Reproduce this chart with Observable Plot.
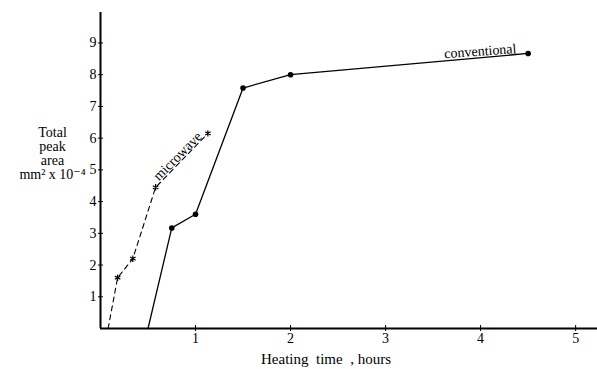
<!DOCTYPE html>
<html>
<head>
<meta charset="utf-8">
<script src="https://cdn.jsdelivr.net/npm/d3@7"></script>
<script src="https://cdn.jsdelivr.net/npm/@observablehq/plot@0.6"></script>
<style>
  body { margin: 0; background: #fff; }
  svg text { white-space: pre; }
</style>
</head>
<body>
<div id="chart"></div>
<script>
const convHours = [0.5, 0.75, 1.0, 1.5, 2.0, 4.5];
const convArea  = [0, 3.17, 3.6, 7.58, 8.0, 8.67];
const microHours = [0.08, 0.18, 0.34, 0.58, 1.13];
const microArea  = [0, 1.6, 2.2, 4.45, 6.15];
const xTicks = [1, 2, 3, 4, 5];
const yTicks = [1, 2, 3, 4, 5, 6, 7, 8, 9];
const yLabel = "Total\npeak\narea\nmm² x 10⁻⁴";
const xLabel = "Heating  time  , hours";

const conv = convHours.map((h, i) => ({h, a: convArea[i]}));
const micro = microHours.map((h, i) => ({h, a: microArea[i]}));

const microLabelAt = {h: (microHours[3] + microHours[4]) / 2, a: (microArea[3] + microArea[4]) / 2};
const convLabelAt = {h: 4.0, a: convArea[4] + (convArea[5] - convArea[4]) * (4.0 - convHours[4]) / (convHours[5] - convHours[4])};

const font = "Liberation Serif, DejaVu Serif, serif";

const chart = Plot.plot({
  width: 597,
  height: 369,
  marginLeft: 100,
  marginRight: 0,
  marginTop: 12,
  marginBottom: 41,
  style: {fontFamily: font, fontSize: "14px", color: "#000", background: "#fff"},
  x: {domain: [0, 5.23]},
  y: {domain: [0, 9.96]},
  marks: [
    Plot.axisX({ticks: xTicks, tickSize: 3, tickPadding: 2, tickFormat: d3.format("d"), label: null, fontSize: 14}),
    Plot.axisX({ticks: xTicks, tickSize: -3, tickFormat: () => "", label: null}),
    Plot.axisY({ticks: yTicks, tickSize: 2, tickPadding: 2, tickFormat: d3.format("d"), label: null, fontSize: 14}),
    Plot.axisY({ticks: yTicks, tickSize: -3, tickFormat: () => "", label: null}),
    Plot.ruleX([0], {y1: 0, y2: 9.96, stroke: "#000", strokeWidth: 2}),
    Plot.ruleY([0], {x1: 0, x2: 5.23, stroke: "#000", strokeWidth: 2}),
    Plot.line(conv, {x: "h", y: "a", stroke: "#000", strokeWidth: 1.3}),
    Plot.dot(conv.slice(1), {x: "h", y: "a", r: 2.8, fill: "#000"}),
    Plot.line(micro, {x: "h", y: "a", stroke: "#000", strokeWidth: 1.1, strokeDasharray: "5,4"}),
    Plot.dot(micro.slice(1), {x: "h", y: "a", r: 3, symbol: "asterisk", stroke: "#000", strokeWidth: 1.2}),
    Plot.text([microLabelAt], {x: "h", y: "a", text: () => "microwave", rotate: -45, lineAnchor: "bottom", dy: -1, dx: -1, fontSize: 14, fill: "#000"}),
    Plot.text([convLabelAt], {x: "h", y: "a", text: () => "conventional", rotate: -4, lineAnchor: "bottom", dy: -2, fontSize: 14, fill: "#000", letterSpacing: "0.4px"}),
    Plot.text([yLabel], {frameAnchor: "left", text: d => d, dx: -48, dy: -17, textAnchor: "middle", lineHeight: 1.0, fontSize: 14, fill: "#000"}),
    Plot.text([xLabel], {frameAnchor: "bottom", text: d => d, dx: -23, dy: 31, lineAnchor: "middle", fontSize: 15, fill: "#000", letterSpacing: "1px"})
  ]
});
document.getElementById("chart").appendChild(chart);
</script>
</body>
</html>
